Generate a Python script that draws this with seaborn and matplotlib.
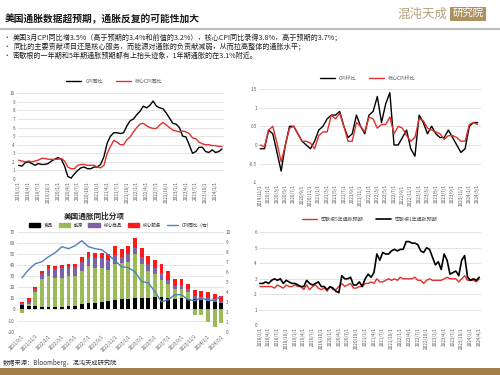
import matplotlib
matplotlib.use('Agg')
import matplotlib.pyplot as plt
import numpy as np
import pandas as pd
import seaborn as sns
from matplotlib.patches import Patch, Rectangle
from matplotlib.lines import Line2D

# ---- data ----
cpi_yoy = [1.6, 1.5, 1.9, 2.0, 1.8, 1.6, 1.8, 1.7, 1.7, 1.8, 2.1, 2.3,
           2.5, 2.3, 1.5, 0.3, 0.1, 0.6, 1.0, 1.3, 1.4, 1.2, 1.2, 1.4,
           1.4, 1.7, 2.6, 4.2, 5.0, 5.4, 5.4, 5.3, 5.4, 6.2, 6.8, 7.0,
           7.5, 7.9, 8.5, 8.3, 8.6, 9.1, 8.5, 8.3, 8.2, 7.7, 7.1, 6.5,
           6.4, 6.0, 5.0, 4.9, 4.0, 3.0, 3.2, 3.7, 3.7, 3.2, 3.1, 3.4,
           3.1, 3.2, 3.5]
core_yoy = [2.2, 2.1, 2.0, 2.1, 2.0, 2.1, 2.2, 2.4, 2.4, 2.3, 2.3, 2.3,
            2.3, 2.4, 2.1, 1.4, 1.2, 1.2, 1.6, 1.7, 1.7, 1.6, 1.6, 1.6,
            1.4, 1.3, 1.6, 3.0, 3.8, 4.5, 4.3, 4.0, 4.0, 4.6, 4.9, 5.5,
            6.0, 6.4, 6.5, 6.2, 6.0, 5.9, 5.9, 6.3, 6.6, 6.3, 6.0, 5.7,
            5.6, 5.5, 5.6, 5.5, 5.3, 4.8, 4.7, 4.3, 4.1, 4.0, 4.0, 3.9,
            3.9, 3.8, 3.8]

cpi_mom = [-0.1, -0.1, 0.4, 0.3, -0.2, -0.7, 0.0, 0.5, 0.5, 0.3, 0.1, 0.0,
           -0.1, 0.1, 0.4, 0.5, 0.7, 0.8, 0.8, 0.9, 0.5, 0.2, 0.3, 0.8,
           0.5, 0.3, 0.8, 0.9, 1.3, 0.6, 1.1, 1.4, 0.0, 0.0, 0.2, 0.4,
           -0.1, -0.3, 0.8, 0.6, 0.3, 0.5, 0.3, 0.2, 0.2, 0.4, 0.2, 0.0,
           -0.2, -0.1, 0.5, 0.6, 0.6]
core_mom = [0.0, -0.05, 0.4, 0.5, 0.05, -0.45, 0.0, 0.45, 0.5, 0.3, 0.1, 0.1,
            0.05, -0.1, 0.25, 0.35, 0.35, 0.8, 0.7, 0.85, 0.5, 0.1, 0.1, 0.6,
            0.5, 0.35, 0.75, 0.7, 0.45, 0.55, 0.55, 0.75, 0.3, 0.5, 0.45, 0.25,
            0.1, 0.2, 0.7, 0.65, 0.45, 0.4, 0.35, 0.3, 0.15, 0.25, 0.25, 0.2,
            0.1, 0.1, 0.55, 0.6, 0.55]

food = [4, 3.5, 3, 2, 2, 2.5, 2.5, 3, 3.5, 4.5, 5.5, 6, 7, 7.5, 8.5, 9,
        9.5, 10, 10, 10.5, 11, 11, 10, 9.5, 10, 9.5, 9, 8.5, 8, 6.5, 5.5]
energy = [-3, 1, 13, 25, 28, 26, 26, 27, 27, 30, 34, 31, 30, 28, 32, 32.5,
          33.5, 39.7, 31, 24, 21, 15.6, 12.7, 9, 8.6, 6.5, -5, -5, -11, -15.5, -12.5]
core_goods = [1.5, 2, 2, 4.5, 6.6, 7.5, 9, 8.4, 8, 7.8, 8, 9.6, 9, 9, 8.4, 6,
              6.6, 6, 6.3, 6, 5.7, 6, 4, 3, 3.6, 2, 3, 3, 2.5, 3, 2.5]
core_services = [1.5, 3.5, 2, 3, 3.3, 2.7, 2.1, 2.7, 2.4, 4.5, 4.5, 4.2, 5, 5, 8, 7,
                 7.8, 8.3, 8.4, 7.5, 7.2, 8, 8, 6, 5.3, 4.6, 5.4, 5.3, 5, 4.3, 3.7]
cpi_line = [5.4, 6.2, 6.8, 7.0, 7.5, 7.9, 8.5, 8.3, 8.6, 9.1, 8.5, 8.3, 8.2, 7.7, 7.1, 6.5,
            6.4, 6.0, 5.0, 4.9, 4.0, 3.0, 3.2, 3.7, 3.7, 3.2, 3.1, 3.4, 3.1, 3.2, 3.5]

mich_1y = [2.7, 2.7, 2.8, 2.7, 2.9, 3.0, 2.9, 3.0, 2.7, 2.9, 2.8, 2.7,
           2.7, 2.6, 2.5, 2.5, 2.9, 2.7, 2.6, 2.7, 2.8, 2.5, 2.5, 2.3,
           2.5, 2.4, 2.2, 2.1, 3.2, 3.0, 3.0, 3.1, 2.6, 2.6, 2.8, 2.5,
           3.0, 3.3, 3.1, 3.4, 4.6, 4.2, 4.7, 4.6, 4.6, 4.8, 4.9, 4.8,
           4.9, 4.9, 5.4, 5.4, 5.3, 5.3, 5.2, 4.8, 4.7, 5.0, 4.9, 4.4,
           3.9, 4.1, 3.6, 4.6, 4.2, 3.3, 3.4, 3.5, 3.2, 4.2, 4.5, 3.1,
           2.9, 3.0, 2.9, 3.1]
mich_5y = [2.5, 2.5, 2.5, 2.5, 2.5, 2.4, 2.6, 2.5, 2.4, 2.6, 2.5, 2.5,
           2.6, 2.5, 2.5, 2.3, 2.6, 2.3, 2.5, 2.6, 2.4, 2.3, 2.4, 2.2,
           2.5, 2.3, 2.3, 2.5, 2.7, 2.5, 2.6, 2.7, 2.4, 2.4, 2.5, 2.5,
           2.7, 2.7, 2.8, 2.7, 3.0, 2.8, 2.8, 2.9, 3.0, 2.9, 3.0, 2.9,
           3.1, 3.0, 3.0, 3.0, 3.0, 3.1, 2.9, 2.9, 2.7, 2.9, 3.0, 2.9,
           2.9, 2.9, 2.9, 3.0, 3.1, 3.0, 3.0, 3.0, 2.8, 3.0, 3.2, 2.9,
           2.9, 2.9, 2.8, 3.0]


def date_labels(start, periods):
    return [f'{d.year}/{d.month}/1' for d in pd.date_range(start, periods=periods, freq='MS')]


yoy_dates = date_labels('2019-01-01', len(cpi_yoy))
mom_dates = date_labels('2019-11-01', len(cpi_mom))
bar_dates = date_labels('2021-09-01', len(food))
mich_dates = date_labels('2018-01-01', len(mich_1y))

# ---- style ----
sns.set_theme(style='white')
plt.rcParams['font.family'] = ['Noto Sans CJK SC', 'DejaVu Sans']
plt.rcParams['axes.unicode_minus'] = False
GRID = '#d9d9d9'
TICK = '#595959'
RED = '#e0302c'
TS = 3.3

fig = plt.figure(figsize=(5, 3.75), dpi=100)


def fx(px):
    return px / 500


def fy(py):
    return 1 - py / 375


def style_ax(ax, yticks, ylim):
    ax.set_ylim(*ylim)
    ax.set_yticks(yticks)
    ax.yaxis.grid(True, color=GRID, linewidth=0.5)
    ax.set_axisbelow(True)
    for s in ax.spines.values():
        s.set_visible(False)
    ax.tick_params(axis='both', labelsize=TS, colors=TICK, length=0, pad=1.5)
    ax.set_xlabel('')
    ax.set_ylabel('')


# header
fig.text(fx(5), fy(19), '美国通胀数据超预期，通胀反复的可能性加大', fontsize=7.0,
         fontweight='bold', color='#1a1a1a', va='center')
fig.text(fx(447), fy(14), '混沌天成', fontsize=9, color='#b3a27c', va='center', ha='right',
         fontweight='light')
fig.text(fx(468), fy(14), '研究院', fontsize=7.5, color='white', va='center', ha='center',
         bbox=dict(boxstyle='square,pad=0.2', facecolor='#ad9160', edgecolor='none'))
fig.add_artist(Rectangle((0, fy(29.5)), 1, 1.6 / 375, transform=fig.transFigure,
                         facecolor='#bdbdbd', edgecolor='none'))
bullets = [
    '美国3月CPI同比增3.5%（高于预期的3.4%和前值的3.2%），核心CPI同比录得3.8%，高于预期的3.7%；',
    '同比的主要贡献项目还是核心服务，而能源对通胀的负贡献减弱，从而拉高整体的通胀水平；',
    '密歇根的一年期和5年期通胀预期都有上抬头迹象，1年期通胀的在3.1%附近。',
]
for i, b in enumerate(bullets):
    y = fy(37.7 + i * 9.2)
    fig.text(fx(4), y, '•', fontsize=4.5, color='#222222', va='center')
    fig.text(fx(13), y, b, fontsize=5.1, color='#222222', va='center')

# footer
fig.text(fx(3), fy(363), '数据来源：Bloomberg，混沌天成研究院', fontsize=4.5, color='#333333', va='center')
fig.add_artist(Rectangle((0, 0), 1, 7 / 375, transform=fig.transFigure,
                         facecolor='#a37c4c', edgecolor='none'))

# ---- top-left: YoY ----
ax1 = fig.add_axes([fx(17), fy(179), fx(207), fy(93.3) - fy(179)])
x1 = np.arange(len(cpi_yoy))
sns.lineplot(x=x1, y=cpi_yoy, ax=ax1, color='black', linewidth=1.0, label='CPI同比')
sns.lineplot(x=x1, y=core_yoy, ax=ax1, color=RED, linewidth=1.0, label='核心CPI同比')
style_ax(ax1, range(0, 11), (0, 10))
ax1.set_xlim(-0.5, 62.6)
ax1.set_xticks(x1[::3])
ax1.set_xticklabels(yoy_dates[::3], rotation=90)
ax1.legend(loc='lower center', bbox_to_anchor=(0.47, 1.06), ncol=2, frameon=False,
           fontsize=3.6, handlelength=3, columnspacing=2.5, labelcolor=TICK)

# ---- top-right: MoM ----
ax2 = fig.add_axes([fx(259), fy(182.3), fx(222), fy(89) - fy(182.3)])
x2 = np.arange(len(cpi_mom))
sns.lineplot(x=x2, y=cpi_mom, ax=ax2, color='black', linewidth=1.0, label='CPI环比')
sns.lineplot(x=x2, y=core_mom, ax=ax2, color=RED, linewidth=1.0, label='核心CPI环比')
style_ax(ax2, [-1, -0.5, 0, 0.5, 1, 1.5], (-1, 1.5))
ax2.set_yticklabels(['-1', '-0.5', '0', '0.5', '1', '1.5'])
ax2.set_xlim(-0.3, 52.8)
ax2.set_xticks(x2[::2])
ax2.set_xticklabels(mom_dates[::2], rotation=90)
ax2.legend(loc='lower center', bbox_to_anchor=(0.49, 1.04), ncol=2, frameon=False,
           fontsize=3.6, handlelength=3, columnspacing=2.5, labelcolor=TICK)

# ---- bottom-left: contributions ----
ax3 = fig.add_axes([fx(17), fy(331.7), fx(207), fy(231.7) - fy(331.7)])
x3 = np.arange(len(food))
pos_b = np.zeros(len(food))
neg_b = np.zeros(len(food))
comps = [(food, 'black', '食品'), (energy, '#9bbb59', '能源'),
         (core_goods, '#7d62a8', '核心商品'), (core_services, '#ff1a1a', '核心服务')]
for vals, col, name in comps:
    v = np.array(vals, dtype=float)
    bottom = np.where(v >= 0, pos_b, neg_b)
    ax3.bar(x3, v, bottom=bottom, width=0.58, color=col, linewidth=0)
    pos_b = pos_b + np.where(v >= 0, v, 0)
    neg_b = neg_b + np.where(v < 0, v, 0)
style_ax(ax3, range(-20, 71, 10), (-20, 70))
ax3.set_xlim(-0.75, 30.4)
ax3.set_xticks(x3[::2])
ax3.set_xticklabels(bar_dates[::2], rotation=45, ha='right', rotation_mode='anchor')
ax3b = ax3.twinx()
sns.lineplot(x=x3, y=cpi_line, ax=ax3b, color='#4f81bd', linewidth=1.0, legend=False)
style_ax(ax3b, range(0, 11), (0, 10))
ax3b.yaxis.grid(False)
ax3b.set_xlim(-0.75, 30.4)
handles = [Patch(color=c, label=n) for _, c, n in comps] + \
          [Line2D([], [], color='#4f81bd', linewidth=1.0, label='CPI同比（右）')]
ax3.legend(handles=handles, loc='lower center', bbox_to_anchor=(0.5, 1.0), ncol=5,
           frameon=False, fontsize=3.3, handlelength=2.5, handleheight=0.8,
           columnspacing=1.2, labelcolor='#333333')
fig.text(fx(94), fy(216), '美国通胀同比分项', fontsize=5.5, fontweight='bold',
         color='#222222', ha='center', va='center')

# ---- bottom-right: Michigan ----
ax4 = fig.add_axes([fx(259), fy(325.3), fx(222), fy(232.3) - fy(325.3)])
x4 = np.arange(len(mich_1y))
sns.lineplot(x=x4, y=mich_5y, ax=ax4, color=RED, linewidth=1.0, label='密歇根5年通胀预期')
sns.lineplot(x=x4, y=mich_1y, ax=ax4, color='black', linewidth=1.2, label='密歇根1年通胀预期')
style_ax(ax4, range(0, 7), (0, 6))
ax4.set_xlim(-0.3, 75.6)
ax4.set_xticks(x4[::3])
ax4.set_xticklabels(mich_dates[::3], rotation=90)
ax4.legend(loc='lower center', bbox_to_anchor=(0.5, 1.06), ncol=2, frameon=False,
           fontsize=3.6, handlelength=3, columnspacing=2.5, labelcolor=TICK)

fig.savefig('out.png', dpi=100)
